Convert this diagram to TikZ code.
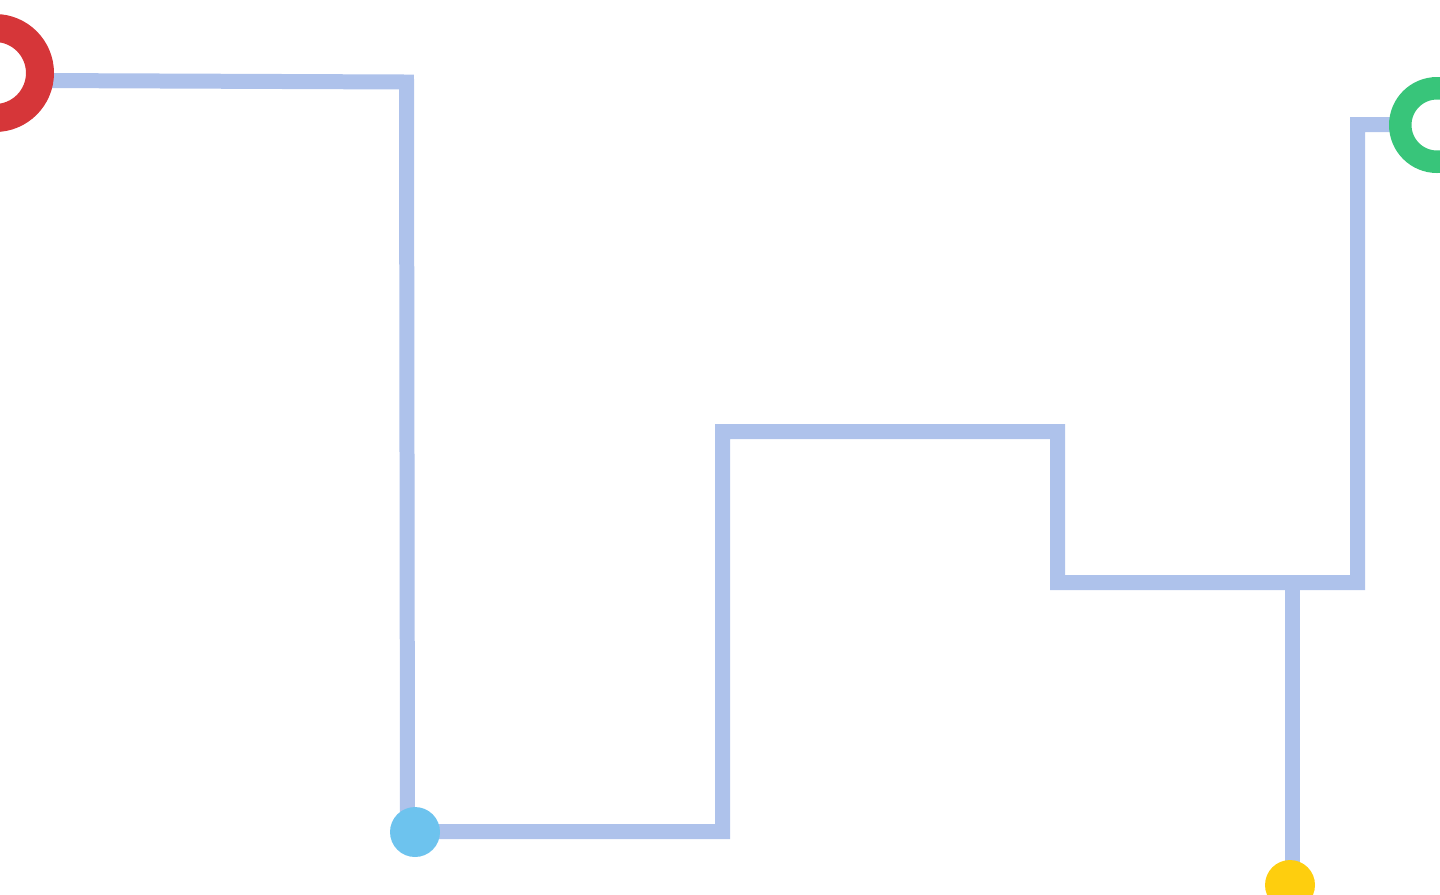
\documentclass[tikz,border=0pt]{standalone}
\usepackage{tikz}
\usetikzlibrary{calc}

\definecolor{trackblue}{RGB}{174,194,235}
\definecolor{startred}{RGB}{214,54,57}
\definecolor{stopblue}{RGB}{109,195,238}
\definecolor{endgreen}{RGB}{56,197,122}
\definecolor{stopyellow}{RGB}{254,206,14}

\begin{document}
\begin{tikzpicture}[x=0.02cm, y=-0.02cm,
    track/.style={line width=0.3cm, color=trackblue, line join=miter},
    ring/.style={circle, draw=#1, inner sep=0pt},
    stop/.style={circle, fill=#1, inner sep=0pt, minimum size=1cm}]
    \useasboundingbox (0,0) rectangle (1440,894);
    \clip (0,0) rectangle (1440,894);
    \coordinate (S) at (-5, 73); \coordinate (E) at (1437, 125);
    \coordinate (B) at (415, 832); \coordinate (Y) at (1290, 885);
    \coordinate (S0) at (40, 80.5); \coordinate (A) at (406.5, 82);
    \coordinate (P) at (722.5, 431.5); \coordinate (Q) at (1057.5, 582.5);
    \coordinate (R) at (1357.5, 124.5); \coordinate (E0) at (1395, 124.5);
    \coordinate (J) at (1292.5, 582.5);

    \draw[track] (S0) -- (A) -- (407.5, 831.5) -- (722.5, 831.5) -- (P) -- (Q |- P) -- (Q) -- (R |- Q) -- (R) -- (E0);
    \draw[track] (J) -- (J |- Y);

    \node[ring=startred, line width=0.56cm, minimum size=1.8cm] (start) at (S) {};
    \node[ring=endgreen, line width=0.45cm, minimum size=1.47cm] (finish) at (E) {};
    \foreach \p/\c in {B/stopblue, Y/stopyellow} {
        \node[stop=\c] (dot\p) at (\p) {};
    }
\end{tikzpicture}
\end{document}
